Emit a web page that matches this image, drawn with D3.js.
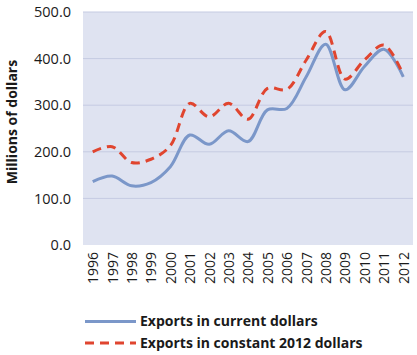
<!DOCTYPE html>
<html><head><meta charset="utf-8">
<script src="https://cdn.jsdelivr.net/npm/d3@7"></script>
<style>body{margin:0;background:#fff;}svg{display:block;}</style>
</head><body><svg id="c" width="417" height="355"></svg>
<script>
const years = ["1996","1997","1998","1999","2000","2001","2002","2003","2004","2005","2006","2007","2008","2009","2010","2011","2012"];
const currentDollars = [136,148,127,134,168,236,216,245,222,290,293,361,431,333,383,420,361];
const constantDollars = [200,211,177,184,213,304,275,304,270,336,334,397,458,356,397,429,365];
const yTicks = [0,100,200,300,400,500];
const seriesNames = ["Exports in current dollars","Exports in constant 2012 dollars"];

const svg = d3.select("#c");
const m = {left:83, right:4, top:12, bottom:110};
const W = 417, H = 355;
const x = d3.scalePoint().domain(years).range([m.left, W - m.right]).padding(0.5);
const y = d3.scaleLinear().domain([0,500]).range([245, 12]);
const font = "'Open Sans', 'Segoe UI', sans-serif";

svg.append("rect").attr("x", m.left).attr("y", y(500)).attr("width", W - m.right - m.left).attr("height", y(0) - y(500)).attr("fill", "#dfe3f1");

svg.append("g").selectAll("line").data(yTicks.filter(d => d > 0)).join("line")
  .attr("x1", m.left).attr("x2", W - m.right).attr("y1", d => y(d)).attr("y2", d => y(d))
  .attr("stroke", "#c5cbe2").attr("stroke-width", 1);

const yAxis = svg.append("g").attr("transform", `translate(${m.left},0)`)
  .call(d3.axisLeft(y).tickValues(yTicks).tickFormat(d3.format(".1f")).tickSize(0).tickPadding(12));
yAxis.select(".domain").remove();
yAxis.selectAll("text").attr("font-family", font).attr("font-size", 14.5).attr("fill", "#1a1a1a");

const xAxis = svg.append("g").attr("transform", `translate(0,${y(0)})`)
  .call(d3.axisBottom(x).tickSize(0).tickPadding(0));
xAxis.select(".domain").remove();
xAxis.selectAll("text").attr("font-family", font).attr("font-size", 14).attr("fill", "#1a1a1a")
  .attr("transform", "rotate(-90)").attr("text-anchor", "end").attr("dy", "0.35em").attr("dx", "-7").attr("y", 0).attr("x", 0);

svg.append("text").attr("transform", "translate(17,122) rotate(-90)")
  .attr("text-anchor", "middle").attr("font-family", font).attr("font-weight", "bold")
  .attr("font-size", 14).attr("fill", "#1a1a1a").text("Millions of dollars");

const line = d3.line().x((d, i) => x(years[i])).y(d => y(d)).curve(d3.curveCatmullRom.alpha(0.5));

svg.append("path").datum(currentDollars).attr("d", line).attr("fill", "none")
  .attr("stroke", "#7b97c9").attr("stroke-width", 3);
svg.append("path").datum(constantDollars).attr("d", line).attr("fill", "none")
  .attr("stroke", "#e0452f").attr("stroke-width", 3).attr("stroke-dasharray", "9,6");

const leg = svg.append("g");
const legY = [321.5, 343];
leg.append("line").attr("x1", 85).attr("x2", 136).attr("y1", legY[0]).attr("y2", legY[0])
  .attr("stroke", "#7b97c9").attr("stroke-width", 3);
leg.append("line").attr("x1", 85).attr("x2", 136).attr("y1", legY[1]).attr("y2", legY[1])
  .attr("stroke", "#e0452f").attr("stroke-width", 3).attr("stroke-dasharray", "9,6");
leg.selectAll("text").data(seriesNames).join("text")
  .attr("x", 140).attr("y", (d, i) => legY[i]).attr("dy", "0.35em")
  .attr("font-family", font).attr("font-weight", "bold").attr("font-size", 14).attr("fill", "#1a1a1a")
  .text(d => d);
</script></body></html>
